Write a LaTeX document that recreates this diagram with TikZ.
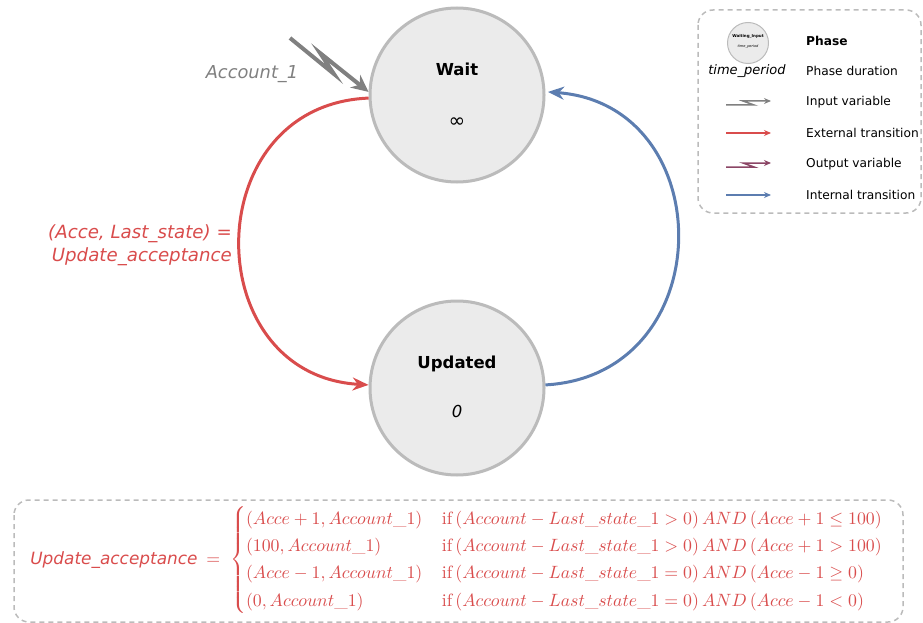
\documentclass[tikz,border=0pt]{standalone}
\usepackage{amsmath}
\usepackage{fontspec}
\newfontfamily\dejavu{DejaVu Sans}
\usetikzlibrary{arrows.meta}

\definecolor{extred}{RGB}{217,76,76}
\definecolor{intblue}{RGB}{92,125,176}
\definecolor{inpgray}{RGB}{128,128,128}
\definecolor{outpurple}{RGB}{139,69,101}
\definecolor{phasefill}{RGB}{235,235,235}
\definecolor{phaseline}{RGB}{187,187,187}

\tikzset{
	phase/.style={circle, draw=phaseline, fill=phasefill, line width=3pt, minimum size=174pt, inner sep=0pt},
	phasename/.style={font=\dejavu\bfseries\fontsize{16.5}{19}\selectfont},
	phasetime/.style={font=\dejavu\fontsize{20}{22}\selectfont},
	ext/.style={extred, line width=3pt, -{Stealth[length=16pt,width=13pt]}},
	int/.style={intblue, line width=3pt, -{Stealth[length=16pt,width=13pt]}},
	inp/.style={inpgray, line width=4pt, -{Stealth[length=17pt,width=16pt]}},
	dashbox/.style={draw=phaseline, line width=1.5pt, dash pattern=on 5pt off 4pt, rounded corners=15pt},
	legtext/.style={anchor=west, inner sep=0pt, font=\dejavu\fontsize{12.2}{14}\selectfont},
	legarrow/.style={line width=1.5pt, -{Stealth[length=7pt,width=6pt]}}
}

\begin{document}
\begin{tikzpicture}[x=1pt,y=-1pt]
		\useasboundingbox (0,0) rectangle (923,623);
		
		% phases
		\node[phase] (wait) at (457,95) {};
		\node[phasename] (waitname) at (457,69) {Wait};
		\node[phasetime] (waittime) at (457,123) {∞};
		\node[phase] (upd) at (457,388) {};
		\node[phasename] (updname) at (457,364) {Updated};
		\node[phasetime, font=\dejavu\itshape\fontsize{16.5}{19}\selectfont] (updtime) at (457,411) {0};
		
		% transitions
		\draw[ext] (wait.182) .. controls (197,105) and (197,375) .. (upd.178);
		\draw[int] (upd.2) .. controls (721,375) and (721,105) .. (wait.178 -| 548,0);
		\node[anchor=east, inner sep=0pt, align=right, text=extred, font=\dejavu\itshape\fontsize{18.2}{23}\selectfont] (extlabel) at (232,245) {(Acce, Last\_state) =\\Update\_acceptance};
		
		% input variable
		\coordinate (accstart) at (290,38);
		\draw[inp] (accstart) -- (334,74) -- (320,53) -- (wait.178);
		\node[text=inpgray, font=\dejavu\itshape\fontsize{17.8}{20}\selectfont] (acclabel) at (252,74) {Account\_1};
		
		% legend
		\draw[dashbox] (698,10) rectangle (921,213);
		\node[circle, draw=phaseline, fill=phasefill, line width=1pt, minimum size=41pt, inner sep=0pt] (legphase) at (748,43) {};
		\node[font=\dejavu\bfseries\fontsize{4}{5}\selectfont] (legname) at (748,36) {Waiting\_Input};
		\node[font=\dejavu\itshape\fontsize{3.5}{4}\selectfont] (legtime) at (748,47) {time\_period};
		\node[font=\dejavu\itshape\fontsize{13}{15}\selectfont] (legperiod) at (747,71) {time\_period};
		\node[legtext, font=\dejavu\bfseries\fontsize{12.2}{14}\selectfont] (lphase) at (806,41) {Phase};
		\node[legtext] (lduration) at (806,71) {Phase duration};
		\node[legtext] (linput) at (806,102) {Input variable};
		\node[legtext] (lext) at (806,133) {External transition};
		\node[legtext] (lout) at (806,164) {Output variable};
		\node[legtext] (lint) at (806,195) {Internal transition};
		\draw[legarrow, inpgray] (726,105) -- (754,105) -- (743,101) -- (771,101);
		\draw[legarrow, extred] (726,133) -- (771,133);
		\draw[legarrow, outpurple] (726,167) -- (754,167) -- (743,163) -- (771,163);
		\draw[legarrow, intblue] (726,195) -- (771,195);
		
		% update function
		\draw[dashbox] (14,500) rectangle (903,622);
		\node[anchor=west, inner sep=0pt, scale=1.78, transform shape, text=extred, font=\fontsize{10}{12}\selectfont] (updfunc) at (30,560) {{\dejavu\itshape\fontsize{9.5}{11}\selectfont Update\_acceptance}\hspace{5pt}$=\;\renewcommand{\arraystretch}{1.27}\left\{\begin{array}{@{}l@{\hspace{11pt}}l@{}}
				(Acce+1, Account\_1) & \text{if}\,(Account-Last\_state\_1>0)\,AND\,(Acce+1\leq 100)\\
				(100, Account\_1) & \text{if}\,(Account-Last\_state\_1>0)\,AND\,(Acce+1>100)\\
				(Acce-1, Account\_1) & \text{if}\,(Account-Last\_state\_1=0)\,AND\,(Acce-1\geq 0)\\
				(0, Account\_1) & \text{if}\,(Account-Last\_state\_1=0)\,AND\,(Acce-1<0)
			\end{array}\right.$};
	\end{tikzpicture}
\end{document}
